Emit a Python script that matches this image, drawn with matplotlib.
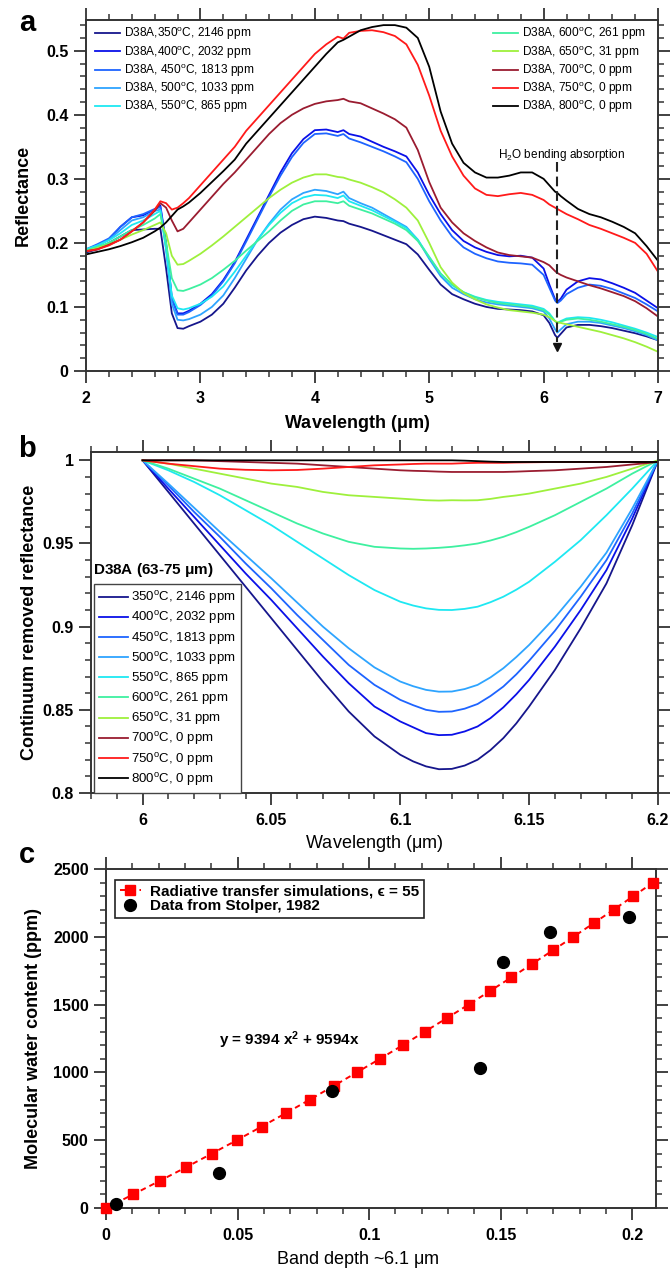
"""
Three stacked panels: D38A spectra, continuum-removed 6.1 um band,
and band depth vs. molecular water content.
"""

import matplotlib
matplotlib.use("Agg")
import matplotlib.pyplot as plt
from matplotlib.ticker import MultipleLocator, StrMethodFormatter


#####################################
# Fonts / style
#####################################

plt.rcParams['font.family'] = ['Liberation Sans', 'DejaVu Sans']
plt.rcParams['font.weight'] = 'bold'
plt.rcParams['mathtext.fontset'] = 'custom'
plt.rcParams['mathtext.rm'] = 'Liberation Sans'
plt.rcParams['mathtext.it'] = 'Liberation Sans:italic'
plt.rcParams['mathtext.bf'] = 'Liberation Sans:bold'
plt.rcParams['mathtext.default'] = 'regular'
plt.rcParams['lines.scale_dashes'] = False

AX_COLOR = '#333333'


#####################################
# Data
#####################################

TEMPS = [350, 400, 450, 500, 550, 600, 650, 700, 750, 800]
PPM = [2146, 2032, 1813, 1033, 865, 261, 31, 0, 0, 0]
COLORS = ['#16168c', '#0a10e8', '#1e64ff', '#2ea4ff', '#1ee8f2',
          '#3ef0a0', '#9ef03c', '#9a1c30', '#ff1a1a', '#000000']

# panel a: reflectance spectra
WL_A = [2.0, 2.1, 2.2, 2.3, 2.4, 2.5, 2.6, 2.65, 2.7, 2.75, 2.8, 2.85, 2.9,
        3.0, 3.1, 3.2, 3.3, 3.4, 3.5, 3.6, 3.7, 3.8, 3.9, 4.0, 4.1, 4.2,
        4.25,
        4.3, 4.4, 4.5, 4.6, 4.7, 4.8, 4.9, 5.0, 5.1, 5.2, 5.3, 5.4, 5.5, 5.6, 5.7, 5.8, 5.9, 6.0,
        6.05, 6.1, 6.12, 6.15,
        6.2, 6.3, 6.4, 6.5, 6.6, 6.7, 6.8, 6.9, 7.0]

refl_350 = [0.185, 0.19, 0.2, 0.21, 0.22, 0.221, 0.222, 0.222, 0.16, 0.09, 0.067, 0.066, 0.07,
            0.077, 0.088, 0.105, 0.13, 0.157, 0.18, 0.2, 0.216, 0.228, 0.237, 0.241, 0.239, 0.235,
            0.234,
            0.23, 0.225, 0.219, 0.212, 0.205, 0.198, 0.182, 0.158, 0.135, 0.12, 0.112, 0.105, 0.1, 0.097, 0.096, 0.095, 0.093, 0.087,
            0.075, 0.056, 0.052, 0.058,
            0.068, 0.072, 0.072, 0.07, 0.067, 0.063, 0.059, 0.054, 0.048]
refl_400 = [0.188, 0.196, 0.205, 0.225, 0.24, 0.243, 0.252, 0.258, 0.2, 0.115, 0.09, 0.09, 0.094,
            0.105, 0.12, 0.142, 0.17, 0.205, 0.24, 0.275, 0.31, 0.34, 0.362, 0.376, 0.377, 0.373,
            0.376,
            0.37, 0.366, 0.358, 0.35, 0.343, 0.335, 0.31, 0.275, 0.245, 0.22, 0.203, 0.193, 0.186, 0.181, 0.179, 0.18, 0.177, 0.16,
            0.135, 0.112, 0.108, 0.113,
            0.127, 0.14, 0.145, 0.143, 0.137, 0.13, 0.122, 0.11, 0.098]
refl_450 = [0.19, 0.198, 0.207, 0.225, 0.24, 0.245, 0.253, 0.256, 0.195, 0.112, 0.088, 0.088, 0.092,
            0.103, 0.118, 0.14, 0.168, 0.202, 0.237, 0.272, 0.305, 0.334, 0.356, 0.37, 0.371, 0.367,
            0.37,
            0.363, 0.357, 0.35, 0.343, 0.335, 0.326, 0.3, 0.265, 0.235, 0.21, 0.193, 0.183, 0.176, 0.171, 0.169, 0.168, 0.166, 0.15,
            0.13, 0.11, 0.106, 0.11,
            0.12, 0.13, 0.135, 0.133, 0.128, 0.121, 0.114, 0.104, 0.093]
refl_500 = [0.19, 0.196, 0.205, 0.22, 0.235, 0.24, 0.25, 0.252, 0.19, 0.105, 0.08, 0.079, 0.081,
            0.088, 0.1, 0.118, 0.145, 0.175, 0.205, 0.23, 0.252, 0.268, 0.278, 0.283, 0.281, 0.276,
            0.28,
            0.27, 0.262, 0.255, 0.245, 0.235, 0.225, 0.205, 0.175, 0.148, 0.13, 0.12, 0.112, 0.107, 0.104, 0.102, 0.1, 0.098, 0.093,
            0.082, 0.065, 0.06, 0.065,
            0.073, 0.077, 0.077, 0.075, 0.071, 0.067, 0.062, 0.056, 0.048]
refl_550 = [0.19, 0.196, 0.204, 0.215, 0.228, 0.235, 0.245, 0.25, 0.19, 0.118, 0.098, 0.096, 0.098,
            0.105, 0.116, 0.132, 0.155, 0.18, 0.205, 0.228, 0.247, 0.262, 0.271, 0.275, 0.274, 0.27,
            0.274,
            0.265, 0.258, 0.251, 0.242, 0.233, 0.223, 0.205, 0.178, 0.152, 0.134, 0.123, 0.116, 0.111, 0.108, 0.106, 0.104, 0.102, 0.097,
            0.09, 0.078, 0.075, 0.078,
            0.082, 0.084, 0.083, 0.08, 0.076, 0.071, 0.066, 0.06, 0.053]
refl_600 = [0.188, 0.194, 0.2, 0.21, 0.22, 0.228, 0.238, 0.245, 0.2, 0.145, 0.126, 0.125, 0.128,
            0.135, 0.145, 0.158, 0.172, 0.188, 0.203, 0.218, 0.235, 0.25, 0.26, 0.265, 0.265, 0.262,
            0.265,
            0.258, 0.252, 0.246, 0.238, 0.23, 0.22, 0.203, 0.178, 0.152, 0.135, 0.123, 0.115, 0.11, 0.106, 0.104, 0.102, 0.1, 0.095,
            0.088, 0.078, 0.075, 0.077,
            0.08, 0.082, 0.08, 0.077, 0.073, 0.069, 0.064, 0.058, 0.05]
refl_650 = [0.187, 0.192, 0.198, 0.205, 0.213, 0.22, 0.228, 0.232, 0.215, 0.18, 0.166, 0.167, 0.172,
            0.183, 0.196, 0.21, 0.225, 0.24, 0.255, 0.27, 0.283, 0.294, 0.302, 0.307, 0.307, 0.303,
            0.302,
            0.299, 0.294, 0.287, 0.279, 0.268, 0.255, 0.235, 0.2, 0.162, 0.138, 0.122, 0.112, 0.104, 0.099, 0.095, 0.093, 0.091, 0.088,
            0.084, 0.078, 0.076, 0.075,
            0.073, 0.069, 0.065, 0.061, 0.056, 0.051, 0.045, 0.038, 0.03]
refl_700 = [0.187, 0.19, 0.197, 0.205, 0.218, 0.232, 0.25, 0.262, 0.255, 0.235, 0.218, 0.222, 0.232,
            0.252, 0.272, 0.292, 0.31, 0.33, 0.35, 0.37, 0.387, 0.4, 0.41, 0.417, 0.421, 0.423,
            0.425,
            0.421, 0.418, 0.41, 0.402, 0.393, 0.38, 0.345, 0.295, 0.255, 0.232, 0.215, 0.203, 0.193, 0.185, 0.181, 0.179, 0.177, 0.17,
            0.165, 0.156, 0.153, 0.15,
            0.146, 0.14, 0.134, 0.129, 0.123, 0.117, 0.109, 0.098, 0.085]
refl_750 = [0.187, 0.19, 0.196, 0.205, 0.218, 0.232, 0.252, 0.265, 0.262, 0.252, 0.255, 0.262, 0.27,
            0.29, 0.31, 0.33, 0.35, 0.375, 0.395, 0.415, 0.435, 0.455, 0.475, 0.495, 0.51, 0.522,
            0.519,
            0.528, 0.531, 0.532, 0.529, 0.523, 0.51, 0.478, 0.43, 0.375, 0.335, 0.305, 0.285, 0.275, 0.273, 0.276, 0.278, 0.275, 0.267,
            0.26, 0.255, 0.253, 0.25,
            0.245, 0.237, 0.228, 0.222, 0.215, 0.208, 0.2, 0.183, 0.155]
refl_800 = [0.182, 0.186, 0.19, 0.195, 0.201, 0.208, 0.218, 0.224, 0.232, 0.242, 0.252, 0.257, 0.263,
            0.278, 0.295, 0.312, 0.33, 0.355, 0.375, 0.395, 0.415, 0.435, 0.455, 0.475, 0.495, 0.513,
            0.517,
            0.522, 0.532, 0.537, 0.54, 0.54, 0.536, 0.52, 0.475, 0.405, 0.355, 0.325, 0.31, 0.302, 0.302, 0.305, 0.31, 0.31, 0.3,
            0.29, 0.28, 0.278, 0.273,
            0.266, 0.253, 0.245, 0.24, 0.233, 0.225, 0.215, 0.195, 0.172]

# panel b: continuum removed reflectance around 6.1 um
WL_B = [6.00, 6.01, 6.02, 6.03, 6.04, 6.05, 6.06, 6.07, 6.08, 6.09,
        6.10, 6.105, 6.11, 6.115, 6.12, 6.125, 6.13, 6.135, 6.14, 6.145, 6.15,
        6.16, 6.17, 6.18, 6.19, 6.20]

cr_350 = [1.0, 0.981, 0.962, 0.943, 0.924, 0.905, 0.886, 0.867, 0.849, 0.834,
          0.823, 0.819, 0.816, 0.8143, 0.8145, 0.8165, 0.82, 0.8258, 0.833, 0.8418, 0.852,
          0.874, 0.899, 0.926, 0.961, 1.0]
cr_400 = [1.0, 0.983, 0.966, 0.949, 0.932, 0.916, 0.899, 0.882, 0.866, 0.852,
          0.843, 0.8395, 0.836, 0.8348, 0.835, 0.837, 0.84, 0.845, 0.8515, 0.8593, 0.868,
          0.888, 0.91, 0.934, 0.965, 1.0]
cr_450 = [1.0, 0.985, 0.969, 0.954, 0.938, 0.923, 0.907, 0.892, 0.877, 0.865,
          0.856, 0.8528, 0.85, 0.8488, 0.849, 0.8507, 0.8535, 0.8583, 0.864, 0.8713, 0.8795,
          0.8975, 0.918, 0.94, 0.968, 1.0]
cr_500 = [1.0, 0.986, 0.9715, 0.957, 0.943, 0.929, 0.9145, 0.9, 0.887, 0.8755,
          0.867, 0.8642, 0.862, 0.8609, 0.861, 0.8625, 0.865, 0.8695, 0.875, 0.8817, 0.889,
          0.9055, 0.924, 0.9445, 0.971, 1.0]
cr_550 = [1.0, 0.994, 0.987, 0.979, 0.97, 0.961, 0.951, 0.941, 0.931, 0.922,
          0.915, 0.9127, 0.911, 0.9101, 0.91, 0.9107, 0.912, 0.9147, 0.918, 0.9222, 0.927,
          0.939, 0.952, 0.967, 0.983, 1.0]
cr_600 = [1.0, 0.995, 0.989, 0.983, 0.976, 0.969, 0.962, 0.956, 0.951, 0.948,
          0.947, 0.9468, 0.947, 0.9474, 0.948, 0.9489, 0.95, 0.9518, 0.954, 0.9568, 0.96,
          0.967, 0.975, 0.983, 0.992, 1.0]
cr_650 = [1.0, 0.998, 0.995, 0.992, 0.989, 0.986, 0.984, 0.981, 0.979, 0.978,
          0.977, 0.9765, 0.976, 0.9758, 0.976, 0.9759, 0.976, 0.9768, 0.978, 0.9789, 0.98,
          0.983, 0.986, 0.99, 0.995, 1.0]
cr_700 = [1.0, 1.0, 1.0, 0.9995, 0.999, 0.9985, 0.998, 0.997, 0.996, 0.995,
          0.994, 0.9937, 0.9935, 0.9932, 0.993, 0.993, 0.993, 0.993, 0.993, 0.9932, 0.9935,
          0.994, 0.995, 0.996, 0.9975, 0.999]
cr_750 = [1.0, 0.998, 0.9965, 0.995, 0.9943, 0.994, 0.9942, 0.995, 0.996, 0.997,
          0.9975, 0.9978, 0.998, 0.998, 0.998, 0.9983, 0.9985, 0.9985, 0.9985, 0.9987, 0.9988,
          0.999, 0.999, 0.999, 0.999, 0.999]
cr_800 = [1.0, 1.0, 1.0, 1.0, 1.0, 1.0, 1.0, 1.0, 1.0, 1.0,
          1.0, 1.0, 1.0, 1.0, 1.0, 0.9998, 0.9995, 0.9992, 0.999, 0.999, 0.999,
          0.999, 0.999, 0.999, 0.999, 0.999]

# panel c: band depth vs water content
sim_depth = [0.0, 0.0103, 0.0204, 0.0304, 0.0401, 0.0497, 0.0591, 0.0684, 0.0775,
             0.0865, 0.0953, 0.1041, 0.1127, 0.1211, 0.1295, 0.1378, 0.1459, 0.154,
             0.1619, 0.1698, 0.1776, 0.1853, 0.1929, 0.2004, 0.2079]
sim_ppm = [0, 100, 200, 300, 400, 500, 600, 700, 800, 900, 1000, 1100, 1200,
           1300, 1400, 1500, 1600, 1700, 1800, 1900, 2000, 2100, 2200, 2300, 2400]
stolper_depth = [0.0037, 0.0428, 0.0857, 0.1423, 0.151, 0.1686, 0.1989]
stolper_ppm = [31, 261, 865, 1033, 1813, 2032, 2146]

refl_all = [refl_350, refl_400, refl_450, refl_500, refl_550,
            refl_600, refl_650, refl_700, refl_750, refl_800]
cr_all = [cr_350, cr_400, cr_450, cr_500, cr_550,
          cr_600, cr_650, cr_700, cr_750, cr_800]


#####################################
# Helpers
#####################################

def style_axes(ax, xmaj, xmin, ymaj, ymin):
    for s in ax.spines.values():
        s.set_linewidth(1.4)
        s.set_color(AX_COLOR)
    ax.xaxis.set_major_locator(MultipleLocator(xmaj))
    ax.xaxis.set_minor_locator(MultipleLocator(xmin))
    ax.yaxis.set_major_locator(MultipleLocator(ymaj))
    ax.yaxis.set_minor_locator(MultipleLocator(ymin))
    ax.xaxis.set_major_formatter(StrMethodFormatter('{x:g}'))
    ax.yaxis.set_major_formatter(StrMethodFormatter('{x:g}'))
    ax.tick_params(which='both', direction='out', top=True, right=True,
                   color=AX_COLOR, labelsize=11.5)
    ax.tick_params(which='major', length=8.5, width=1.3)
    ax.tick_params(which='minor', length=4.5, width=1.1)
    ax.tick_params(axis='y', which='major', pad=4)
    ax.tick_params(axis='x', which='major', pad=6)


fig = plt.figure(figsize=(6.72, 12.73), dpi=100)
ax_a = fig.add_axes([0.1280, 0.70856, 0.8512, 0.27573])
ax_b = fig.add_axes([0.1354, 0.37706, 0.84375, 0.26787])
ax_c = fig.add_axes([0.15774, 0.05106, 0.81845, 0.2663])


#####################################
# Panel a
#####################################

for i, t in enumerate(TEMPS):
    sep = ',' if t in (350, 400) else ', '
    ax_a.plot(WL_A, refl_all[i], color=COLORS[i], lw=1.3,
              label=f'D38A{sep}{t}$^{{o}}$C, {PPM[i]} ppm')

ax_a.set_xlim(2, 7)
ax_a.set_ylim(0, 0.548)
style_axes(ax_a, 1, 0.2, 0.1, 0.02)

# water band marker
ax_a.plot([6.117, 6.117], [0.326, 0.045], color='#222222', lw=1.5, dashes=(7, 3.5))
ax_a.plot([6.117], [0.038], marker='v', ms=6, color='#111111', ls='none')
ax_a.text(6.16, 0.338, 'H$_2$O bending absorption', ha='center', va='center',
          fontsize=8.5, fontweight='normal')

h, l = ax_a.get_legend_handles_labels()
leg_kw = dict(loc='upper left', frameon=False, prop=dict(size=8.6, weight='normal'),
              handlelength=2.1, handletextpad=0.3, labelspacing=0.12,
              borderaxespad=0, borderpad=0)
leg1 = ax_a.legend(h[:5], l[:5], bbox_to_anchor=(0.0157, 0.984), **leg_kw)
ax_a.add_artist(leg1)
ax_a.legend(h[5:], l[5:], bbox_to_anchor=(0.7115, 0.984), **leg_kw)

ax_a.set_xlabel('Wavelength ($\\mu$m)', fontsize=13, fontweight='bold')
ax_a.xaxis.set_label_coords(0.474, -0.12)
ax_a.set_ylabel('Reflectance', fontsize=13, fontweight='bold')
ax_a.yaxis.set_label_coords(-0.094, 0.5)


#####################################
# Panel b
#####################################

for i, t in enumerate(TEMPS):
    ax_b.plot(WL_B, cr_all[i], color=COLORS[i], lw=1.3,
              label=f'{t}$^{{o}}$C, {PPM[i]} ppm')

ax_b.set_xlim(5.98, 6.2)
ax_b.set_ylim(0.8, 1.005)
style_axes(ax_b, 0.05, 0.01, 0.05, 0.01)

leg_b = ax_b.legend(loc='upper left', bbox_to_anchor=(0.0053, 0.613), frameon=True,
                    fancybox=False, edgecolor='#444444', framealpha=1,
                    prop=dict(size=9.5, weight='normal'), handlelength=2.2,
                    handletextpad=0.2, labelspacing=0.24, borderpad=0.4,
                    borderaxespad=0)
leg_b.get_frame().set_linewidth(1.0)
ax_b.text(0.0035, 0.655, 'D38A (63-75 $\\mu$m)', transform=ax_b.transAxes,
          fontsize=11, fontweight='bold', va='center')

ax_b.set_xlabel('Wavelength ($\\mu$m)', fontsize=13, fontweight='normal')
ax_b.xaxis.set_label_coords(0.5, -0.118)
ax_b.set_ylabel('Continuum removed reflectance', fontsize=13, fontweight='bold')
ax_b.yaxis.set_label_coords(-0.093, 0.5)


#####################################
# Panel c
#####################################

ax_c.plot(sim_depth, sim_ppm, color='red', ls='--', lw=1.4, dashes=(4, 3),
          marker='s', ms=7.3, mfc='red', mec='red', clip_on=False, zorder=4,
          label='Radiative transfer simulations, \u03f5 = 55')
ax_c.plot(stolper_depth, stolper_ppm, ls='none', marker='o', ms=8.5,
          color='black', clip_on=False, zorder=5, label='Data from Stolper, 1982')

ax_c.set_xlim(0, 0.209)
ax_c.set_ylim(0, 2500)
style_axes(ax_c, 0.05, 0.01, 500, 100)

leg_c = ax_c.legend(loc='upper left', bbox_to_anchor=(0.0164, 0.9676), frameon=True,
                    fancybox=False, edgecolor='#222222', framealpha=1,
                    prop=dict(size=11, weight='bold'), handlelength=1.4,
                    handletextpad=0.6, labelspacing=0.05, borderpad=0.3,
                    borderaxespad=0, numpoints=1)
leg_c.get_frame().set_linewidth(1.2)

ax_c.text(0.043, 1240, 'y = 9394 x$^{\\mathbf{2}}$ + 9594x', fontsize=11,
          fontweight='bold', va='center')

ax_c.set_xlabel('Band depth ~6.1 $\\mu$m', fontsize=13, fontweight='normal')
ax_c.xaxis.set_label_coords(0.458, -0.12)
ax_c.set_ylabel('Molecular water content (ppm)', fontsize=13, fontweight='bold')
ax_c.yaxis.set_label_coords(-0.116, 0.5)


#####################################
# Panel letters
#####################################

for letter, ypix in (('a', 23), ('b', 449), ('c', 855)):
    fig.text(27 / 672, 1 - ypix / 1273, letter, fontsize=21, fontweight='bold',
             ha='center', va='center')

fig.savefig('out.png', dpi=100)
